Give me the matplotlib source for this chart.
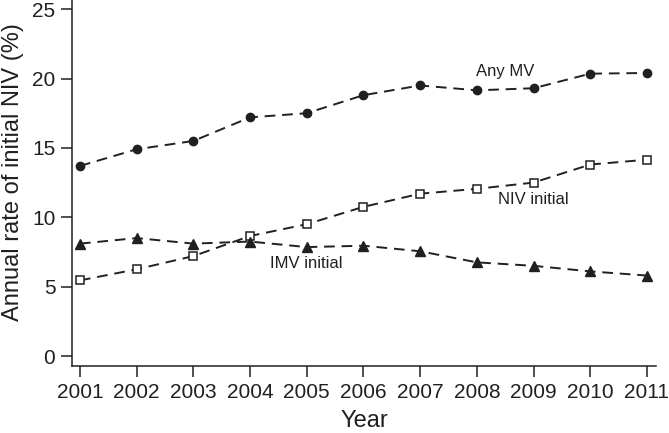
import matplotlib
matplotlib.use("Agg")
import matplotlib.pyplot as plt

years = [2001, 2002, 2003, 2004, 2005, 2006, 2007, 2008, 2009, 2010, 2011]
any_mv = [13.7, 14.9, 15.5, 17.2, 17.5, 18.8, 19.5, 19.15, 19.3, 20.35, 20.4]
niv_initial = [5.45, 6.25, 7.2, 8.65, 9.5, 10.75, 11.7, 12.05, 12.5, 13.8, 14.15]
imv_initial = [8.1, 8.5, 8.1, 8.25, 7.85, 7.95, 7.55, 6.75, 6.5, 6.1, 5.8]
yticks = [0, 5, 10, 15, 20, 25]

plt.rcParams['font.family'] = ['Liberation Sans', 'DejaVu Sans']

fig = plt.figure(figsize=(6.69, 4.33), dpi=100)
ax = fig.add_axes([72/669, (433-366)/433, (656-72)/669, (366-0)/433])

c = '#231f20'
ls = (0, (5.5, 3.5))
lw = 1.4
ax.plot(years, any_mv, linestyle=ls, color=c, lw=lw, marker='o', ms=6,
        mfc=c, mec=c)
ax.plot(years, niv_initial, linestyle=ls, color=c, lw=lw, marker='s', ms=6,
        mfc='white', mec=c, mew=1.1)
ax.plot(years, imv_initial, linestyle=ls, color=c, lw=lw, marker='^', ms=7,
        mfc=c, mec=c)

ax.text(2008.5, 20.5, 'Any MV', fontsize=12, ha='center', va='center', color=c)
ax.text(2009.0, 11.25, 'NIV initial', fontsize=12, ha='center', va='center', color=c)
ax.text(2005.0, 6.65, 'IMV initial', fontsize=12, ha='center', va='center', color=c)

ax.set_xlim(2000.86, 2011.16)
ax.set_ylim(-0.72, 25.66)
ax.set_xticks(years)
ax.set_yticks(yticks)
ax.tick_params(direction='out', length=8, width=1.1, labelsize=15, colors=c, pad=4)
for s in ['top', 'right']:
    ax.spines[s].set_visible(False)
for s in ['left', 'bottom']:
    ax.spines[s].set_color(c)
    ax.spines[s].set_linewidth(1.1)

ax.set_xlabel('Year', fontsize=17, color=c, labelpad=6)
ax.set_ylabel('Annual rate of initial NIV (%)', fontsize=17, color=c)
ax.yaxis.set_label_coords(-0.082, 0.53)

fig.savefig('out.png', dpi=100)
